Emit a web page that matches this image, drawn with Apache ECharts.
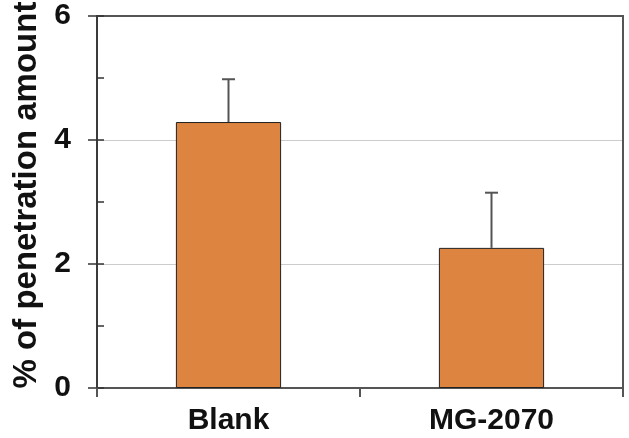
<!DOCTYPE html>
<html>
<head>
<meta charset="utf-8">
<script src="https://cdn.jsdelivr.net/npm/echarts@6/dist/echarts.min.js"></script>
<style>html,body{margin:0;padding:0;background:#fff}#c{width:629px;height:438px}</style>
</head>
<body>
<div id="c"></div>
<script>
var categories = ['Blank', 'MG-2070'];
var means = [4.29, 2.26];
var upperErrors = [0.69, 0.89];
var yTicks = [0, 2, 4, 6];
var yTitle = '% of penetration amount';

var chart = echarts.init(document.getElementById('c'), null, {renderer: 'canvas'});
var errData = categories.map(function (c, i) { return [i, means[i], means[i] + upperErrors[i]]; });

chart.setOption({
  animation: false,
  grid: {left: 97, right: 6, top: 16, bottom: 50, show: true, borderColor: '#555', borderWidth: 2, outerBoundsMode: 'none', containLabel: false},
  xAxis: [{
    type: 'category', data: categories, position: 'bottom',
    axisLine: {onZero: false, lineStyle: {color: '#555', width: 2}},
    axisTick: {show: true, length: 9, lineStyle: {color: '#555', width: 2}},
    axisLabel: {margin: 18, fontFamily: '"Liberation Sans", Arial, sans-serif', fontWeight: 'bold', fontSize: 30, color: '#111'}
  }, {
    type: 'category', data: categories, position: 'top',
    axisLine: {show: true, onZero: false, lineStyle: {color: '#555', width: 2}},
    axisTick: {show: false}, axisLabel: {show: false}
  }],
  yAxis: [{
    type: 'value', min: 0, max: 6, interval: 2, position: 'left',
    name: yTitle, nameLocation: 'middle', nameGap: 46,
    nameTextStyle: {fontFamily: '"Liberation Sans", Arial, sans-serif', fontWeight: 'bold', fontSize: 33, color: '#111', padding: [0, 0, 0, 14]},
    axisLine: {show: true, onZero: false, lineStyle: {color: '#333', width: 1.5}},
    axisTick: {show: true, length: 9, lineStyle: {color: '#333', width: 1.5}},
    axisLabel: {margin: 26, fontFamily: '"Liberation Sans", Arial, sans-serif', fontWeight: 'bold', fontSize: 30, color: '#111',
      formatter: function (v) { return yTicks.indexOf(v) >= 0 ? String(v) : ''; }},
    splitLine: {show: true, lineStyle: {color: '#cccccc', width: 1}}
  }, {
    type: 'value', min: 0, max: 6, interval: 1, position: 'left', offset: 0,
    axisLine: {show: false, onZero: false},
    axisTick: {show: true, inside: true, length: 7, lineStyle: {color: '#333', width: 1.5}},
    axisLabel: {show: false}, splitLine: {show: false}
  }, {
    type: 'value', min: 0, max: 6, interval: 2, position: 'right',
    axisLine: {show: true, onZero: false, lineStyle: {color: '#555', width: 2}},
    axisTick: {show: false}, axisLabel: {show: false}, splitLine: {show: false}
  }],
  series: [{
    type: 'bar', data: means, barWidth: '40%', xAxisIndex: 0, yAxisIndex: 0,
    itemStyle: {color: '#DC8440', borderColor: '#222', borderWidth: 1}
  }, {
    type: 'custom', xAxisIndex: 0, yAxisIndex: 0, data: errData, z: 5,
    renderItem: function (params, api) {
      var x = api.value(0);
      var p0 = api.coord([x, api.value(1)]);
      var p1 = api.coord([x, api.value(2)]);
      var hw = 6.5;
      return {type: 'group', children: [
        {type: 'line', shape: {x1: p0[0], y1: p0[1], x2: p1[0], y2: p1[1]}, style: {stroke: '#555', lineWidth: 2}},
        {type: 'line', shape: {x1: p1[0] - hw, y1: p1[1], x2: p1[0] + hw, y2: p1[1]}, style: {stroke: '#555', lineWidth: 2}}
      ]};
    }
  }]
});
</script>
</body>
</html>
